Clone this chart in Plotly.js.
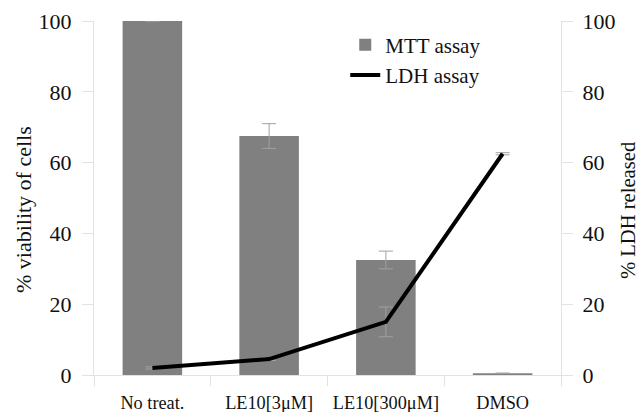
<!DOCTYPE html>
<html>
<head>
<meta charset="utf-8">
<script src="https://cdn.plot.ly/plotly-3.0.1.min.js"></script>
<style>html,body{margin:0;padding:0;background:#fff;}#chart{width:639px;height:412px;}</style>
</head>
<body>
<div id="chart"></div>
<script>
const categories = ["No treat.", "LE10[3\u03bcM]", "LE10[300\u03bcM]", "DMSO"];
const mttValues = [100, 67.5, 32.5, 0.5];
const mttErrors = [0, 3.5, 2.5, 0];
const ldhValues = [2, 4.5, 15, 62.5];
const ldhErrors = [0.3, 0.4, 4.2, 0.3];
const yTicks = [0, 20, 40, 60, 80, 100];
const leftTitle = "% viability of cells";
const rightTitle = "% LDH released";

const font = "'Liberation Serif', 'Times New Roman', serif";
const axisGrey = "#e2e2e2";
const textCol = "#111111";

const traces = [
  {
    type: "bar", name: "MTT assay", x: categories, y: mttValues,
    marker: {color: "#808080"}, width: 0.51,
    error_y: {type: "data", array: mttErrors, visible: true, color: "#a0a0a0", thickness: 1, width: 7}
  },
  {
    type: "scatter", mode: "lines", name: "LDH assay", x: categories, y: ldhValues,
    yaxis: "y2", line: {color: "#000000", width: 4},
    error_y: {type: "data", array: ldhErrors, visible: true, color: "#a0a0a0", thickness: 1, width: 7}
  }
];

const layout = {
  width: 639, height: 412,
  margin: {l: 94, r: 78, t: 21, b: 37},
  paper_bgcolor: "#ffffff", plot_bgcolor: "#ffffff",
  font: {family: font, size: 18, color: textCol},
  showlegend: true,
  legend: {x: 0.538, y: 0.99, xanchor: "left", yanchor: "top", bgcolor: "rgba(0,0,0,0)",
           font: {family: font, size: 21, color: textCol}, tracegroupgap: 0, itemwidth: 30},
  xaxis: {
    type: "category", showgrid: false, showline: true, linecolor: axisGrey, linewidth: 1,
    ticks: "outside", tickson: "boundaries", ticklen: 10, tickcolor: axisGrey,
    ticklabelstandoff: 11,
    tickfont: {family: font, size: 18.3, color: textCol}, zeroline: false
  },
  yaxis: {
    range: [0, 100], tickvals: yTicks, showgrid: false, zeroline: false,
    showline: true, linecolor: axisGrey, ticks: "outside", ticklen: 11, tickcolor: axisGrey,
    ticklabelstandoff: 6,
    tickfont: {family: font, size: 22, color: textCol}
  },
  yaxis2: {
    range: [0, 100], tickvals: yTicks, overlaying: "y", side: "right",
    showgrid: false, zeroline: false, showline: true, linecolor: axisGrey,
    ticks: "outside", ticklen: 11, tickcolor: axisGrey,
    ticklabelstandoff: 5,
    tickfont: {family: font, size: 22, color: textCol}
  },
  annotations: [
    {text: leftTitle, xref: "paper", yref: "paper", x: -0.152, y: 0.466, textangle: -90,
     showarrow: false, xanchor: "center", yanchor: "middle",
     font: {family: font, size: 22, color: textCol}},
    {text: rightTitle, xref: "paper", yref: "paper", x: 1.1435, y: 0.466, textangle: -90,
     showarrow: false, xanchor: "center", yanchor: "middle",
     font: {family: font, size: 20.6, color: textCol}}
  ]
};

Plotly.newPlot("chart", traces, layout, {displayModeBar: false, staticPlot: true});
</script>
</body>
</html>
